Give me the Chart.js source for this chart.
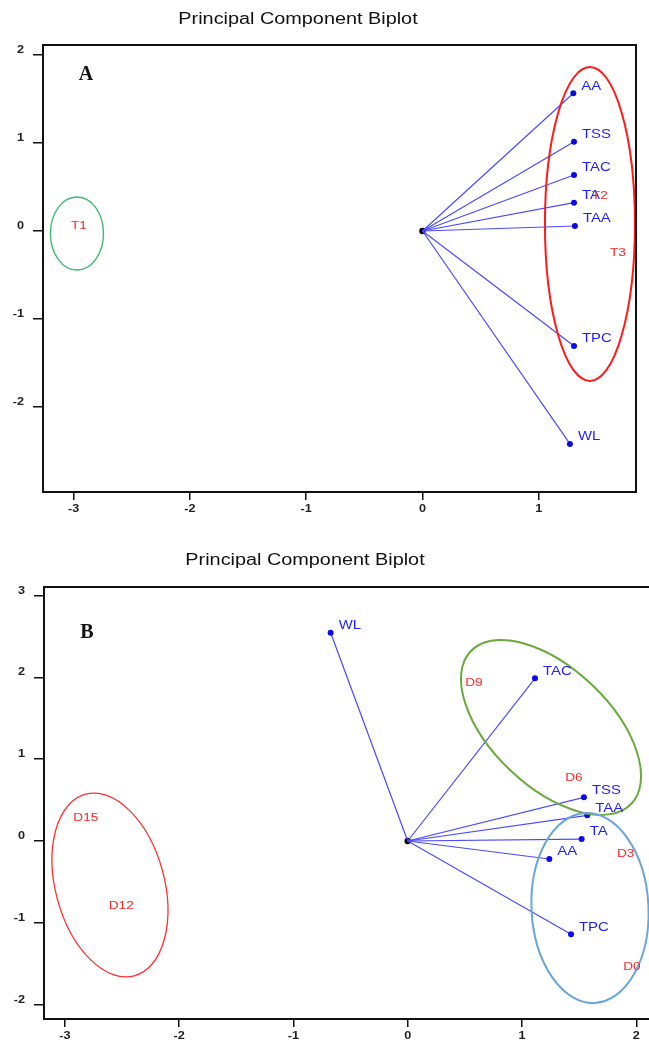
<!DOCTYPE html>
<html>
<head>
<meta charset="utf-8">
<script src="https://cdn.jsdelivr.net/npm/chart.js@4.4.1/dist/chart.umd.min.js"></script>
<style>
  html, body { margin: 0; padding: 0; background: #fff; overflow: hidden; width: 649px; height: 1040px; }
  canvas { position: absolute; left: 0; }
  #chartA { top: 0; }
  #chartB { top: 540px; }
</style>
</head>
<body>
<canvas id="chartA" width="649" height="530"></canvas>
<canvas id="chartB" width="680" height="500"></canvas>
<script>
// ---- panel A data ----
const xTicksA = [-3, -2, -1, 0, 1];
const yTicksA = [-2, -1, 0, 1, 2];
const varsA = ['AA', 'TSS', 'TAC', 'TA', 'TAA', 'TPC', 'WL'];
const loadXA = [1.297, 1.303, 1.303, 1.303, 1.311, 1.303, 1.268];
const loadYA = [1.565, 1.015, 0.636, 0.322, 0.057, -1.307, -2.42];
const groupsA = ['T1', 'T2', 'T3'];
const groupXA = [-2.954, 1.525, 1.681];
const groupYA = [0.057, 0.398, -0.247];
// ellipses: centre, two conjugate semi-axes (data units)
const ellCxA = [-2.971, 1.440];
const ellCyA = [-0.028, 0.080];
const ellUA = [[0, 0.415], [0, 1.784]];
const ellVA = [[0.228, 0], [0.387, 0]];

// ---- panel B data ----
const xTicksB = [-3, -2, -1, 0, 1, 2];
const yTicksB = [-2, -1, 0, 1, 2, 3];
const varsB = ['WL', 'TAC', 'TSS', 'TAA', 'TA', 'AA', 'TPC'];
const loadXB = [-0.674, 1.114, 1.542, 1.571, 1.522, 1.239, 1.429];
const loadYB = [2.546, 1.989, 0.534, 0.314, 0.024, -0.220, -1.141];
const groupsB = ['D15', 'D12', 'D9', 'D6', 'D3', 'D0'];
const groupXB = [-2.816, -2.506, 0.580, 1.455, 1.907, 1.962];
const groupYB = [0.285, -0.791, 1.935, 0.767, -0.159, -1.540];
const ellCxB = [-2.605, 1.254, 1.595];
const ellCyB = [-0.538, 1.388, -0.819];
const ellUB = [[-0.213, 1.110], [-0.703, 0.932], [-0.042, 1.160]];
const ellVB = [[0.460, 0.172], [0.356, 0.524], [0.511, 0.035]];

const FONT = '"Liberation Sans", Arial, sans-serif';
const STRETCH = 1.24; // the source figure's text is widened

function wideText(ctx, text, x, y, align, sx) {
  ctx.save();
  ctx.translate(x, y);
  ctx.scale(sx || STRETCH, 1);
  ctx.textAlign = align;
  ctx.fillText(text, 0, 0);
  ctx.restore();
}

function biplot(id, p) {
  const datasets = p.vars.map((v, i) => ({
    type: 'scatter',
    showLine: true,
    data: [{ x: 0, y: 0 }, { x: p.lx[i], y: p.ly[i] }],
    borderColor: '#4a4aff',
    borderWidth: 1.2,
    pointRadius: [0, 3],
    pointBackgroundColor: '#0a0ae6',
    pointBorderWidth: 0,
  }));
  datasets.push({ type: 'scatter', data: [{ x: 0, y: 0 }], pointRadius: 3.2, pointBackgroundColor: '#000', pointBorderWidth: 0 });

  const overlay = {
    id: 'overlay',
    afterDatasetsDraw(chart) {
      const { ctx, chartArea: a, scales: { x, y } } = chart;
      // ellipses
      ctx.save();
      ctx.beginPath(); ctx.rect(a.left, a.top, a.right - a.left, a.bottom - a.top); ctx.clip();
      p.ecx.forEach((cx, i) => {
        const cy = p.ecy[i];
        const px = x.getPixelForValue(cx), py = y.getPixelForValue(cy);
        const ux = x.getPixelForValue(cx + p.eu[i][0]) - px, uy = y.getPixelForValue(cy + p.eu[i][1]) - py;
        const vx = x.getPixelForValue(cx + p.ev[i][0]) - px, vy = y.getPixelForValue(cy + p.ev[i][1]) - py;
        ctx.save();
        ctx.beginPath();
        ctx.transform(vx, vy, ux, uy, px, py);
        ctx.arc(0, 0, 1, 0, Math.PI * 2);
        ctx.restore();
        ctx.strokeStyle = p.ecol[i];
        ctx.lineWidth = p.ew[i];
        ctx.stroke();
      });
      ctx.restore();

      ctx.save();
      ctx.textBaseline = 'middle';
      // variable labels
      ctx.font = '12px ' + FONT;
      ctx.fillStyle = '#1e1eff';
      p.vars.forEach((v, i) => {
        wideText(ctx, v, x.getPixelForValue(p.lx[i]) + 8, y.getPixelForValue(p.ly[i]) - 7, 'left');
      });
      // group labels
      ctx.font = '11px ' + FONT;
      ctx.fillStyle = '#ff2626';
      p.groups.forEach((g, i) => {
        wideText(ctx, g, x.getPixelForValue(p.gx[i]), y.getPixelForValue(p.gy[i]), 'center');
      });
      ctx.restore();
    },
    afterDraw(chart) {
      const { ctx, chartArea: a, scales: { x, y } } = chart;
      ctx.save();
      ctx.strokeStyle = '#111';
      ctx.lineWidth = 2;
      ctx.strokeRect(a.left, a.top, a.right - a.left, a.bottom - a.top);

      // tick labels
      ctx.fillStyle = '#222';
      ctx.font = 'bold 11px ' + FONT;
      ctx.textBaseline = 'top';
      x.ticks.forEach((t) => wideText(ctx, String(t.value), x.getPixelForValue(t.value), a.bottom + 11, 'center', 1.15));
      ctx.textBaseline = 'middle';
      y.ticks.forEach((t) => wideText(ctx, String(t.value), a.left - 19, y.getPixelForValue(t.value) - 5, 'right', 1.15));

      ctx.fillStyle = '#111';
      ctx.font = '16px ' + FONT;
      wideText(ctx, 'Principal Component Biplot', p.titleX, p.titleY, 'center');
      ctx.font = 'bold 20px "Liberation Serif", "Times New Roman", serif';
      ctx.textAlign = 'center';
      ctx.fillText(p.letter, a.left + 43, a.top + p.letterDy);
      ctx.restore();
    },
  };

  return new Chart(document.getElementById(id), {
    type: 'scatter',
    data: { datasets },
    plugins: [overlay],
    options: {
      responsive: false,
      animation: false,
      events: [],
      layout: { padding: { left: 0, top: p.top, right: p.right, bottom: 0 } },
      plugins: { legend: { display: false }, tooltip: { enabled: false }, title: { display: false } },
      scales: {
        x: {
          type: 'linear', min: p.xMin, max: p.xMax,
          afterBuildTicks: (s) => { s.ticks = p.xTicks.map((v) => ({ value: v })); },
          afterFit: (s) => { s.height = p.xh; },
          border: { display: false },
          grid: { drawOnChartArea: false, color: '#111', lineWidth: 1.5, tickLength: 8 },
          ticks: { display: false },
        },
        y: {
          type: 'linear', min: p.yMin, max: p.yMax,
          afterBuildTicks: (s) => { s.ticks = p.yTicks.map((v) => ({ value: v })); },
          afterFit: (s) => { s.width = p.yw; },
          border: { display: false },
          grid: { drawOnChartArea: false, color: '#111', lineWidth: 1.5, tickLength: 10 },
          ticks: { display: false },
        },
      },
    },
  });
}

biplot('chartA', {
  vars: varsA, lx: loadXA, ly: loadYA,
  groups: groupsA, gx: groupXA, gy: groupYA,
  ecx: ellCxA, ecy: ellCyA, eu: ellUA, ev: ellVA,
  ecol: ['#3dbb72', '#ff1a1a'], ew: [1.4, 2],
  xTicks: xTicksA, yTicks: yTicksA,
  xMin: -3.263, xMax: 1.836, yMin: -2.966, yMax: 2.114,
  top: 45, right: 13, xh: 38, yw: 43,
  titleX: 298, titleY: 20, letter: 'A', letterDy: 30,
});

biplot('chartB', {
  vars: varsB, lx: loadXB, ly: loadYB,
  groups: groupsB, gx: groupXB, gy: groupYB,
  ecx: ellCxB, ecy: ellCyB, eu: ellUB, ev: ellVB,
  ecol: ['#ff3030', '#6aaa3c', '#6aa6da'], ew: [1.3, 2, 2],
  xTicks: xTicksB, yTicks: yTicksB,
  xMin: -3.182, xMax: 2.295, yMin: -2.176, yMax: 3.105,
  top: 47, right: 10, xh: 21, yw: 44,
  titleX: 305, titleY: 21, letter: 'B', letterDy: 46,
});
</script>
</body>
</html>
